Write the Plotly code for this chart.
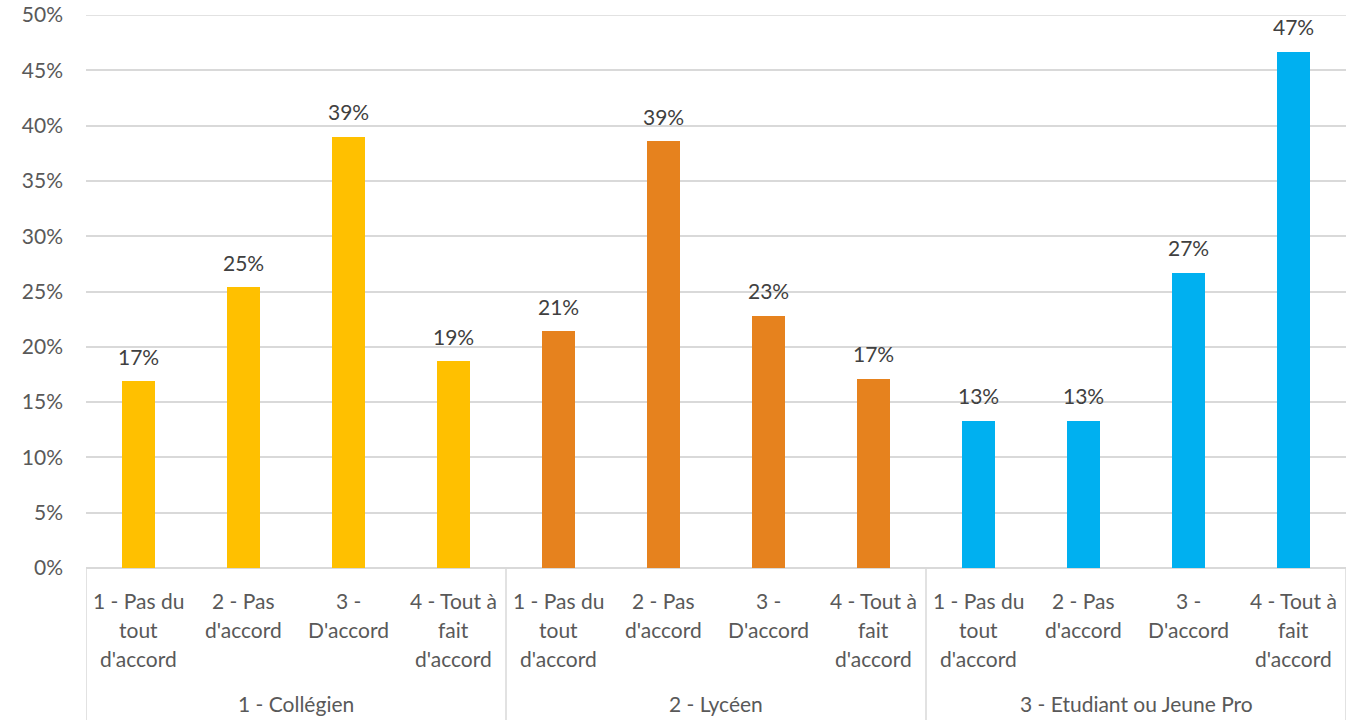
import plotly.graph_objects as go

groups = ["1 - Collégien", "2 - Lycéen", "3 - Etudiant ou Jeune Pro"]
responses = ["1 - Pas du\ntout\nd'accord", "2 - Pas\nd'accord", "3 -\nD'accord", "4 - Tout à\nfait\nd'accord"]
collegien = [16.9, 25.4, 39.0, 18.7]
lyceen = [21.4, 38.6, 22.8, 17.1]
etudiant = [13.3, 13.3, 26.7, 46.7]
colors = ["#FFC000", "#E6821E", "#00B0F0"]
y_ticks = [0, 5, 10, 15, 20, 25, 30, 35, 40, 45, 50]

series = [collegien, lyceen, etudiant]
FONT = "Lato"
AX_COLOR = "#595959"
FS = 21

fig = go.Figure()
annotations = []
shapes = []
n = len(responses)
for gi, (g, vals, col) in enumerate(zip(groups, series, colors)):
    xs = [gi * n + i for i in range(n)]
    fig.add_trace(go.Bar(x=xs, y=vals, marker=dict(color=col, line=dict(width=0)),
                         width=0.315, name=g, showlegend=False, hoverinfo="y"))
    for x, v in zip(xs, vals):
        annotations.append(dict(x=x, y=v, xref="x", yref="y", text=f"{round(v):d}%",
                                showarrow=False, yanchor="middle", yshift=25,
                                font=dict(family=FONT, size=FS, color="#404040")))
    for x, lab in zip(xs, responses):
        for li, line in enumerate(lab.split("\n")):
            annotations.append(dict(x=x, y=0, xref="x", yref="paper", text=line,
                                    showarrow=False, yanchor="middle", yshift=-32 - 29 * li,
                                    font=dict(family=FONT, size=FS, color=AX_COLOR)))
    annotations.append(dict(x=gi * n + (n - 1) / 2, y=0, xref="x", yref="paper", text=g,
                            showarrow=False, yanchor="middle", yshift=-135,
                            font=dict(family=FONT, size=FS, color=AX_COLOR)))

for b in range(len(groups) + 1):
    xb = b * n - 0.5
    shapes.append(dict(type="line", xref="x", yref="paper", x0=xb, x1=xb, y0=0, y1=-0.3,
                       line=dict(color="#D9D9D9", width=1.5)))
# top gridline at the last tick (Plotly skips it at the range edge)
shapes.append(dict(type="line", xref="paper", yref="y", x0=0, x1=1,
                   y0=y_ticks[-1], y1=y_ticks[-1], layer="below",
                   line=dict(color="#D9D9D9", width=1.5)))

fig.update_layout(
    width=1360, height=720,
    margin=dict(l=86, r=14, t=15, b=152, autoexpand=False),
    plot_bgcolor="white", paper_bgcolor="white",
    bargap=0,
    annotations=annotations, shapes=shapes,
    xaxis=dict(range=[-0.5, len(groups) * n - 0.5], showticklabels=False, showgrid=False,
               zeroline=False, showline=False, fixedrange=True, automargin=False),
    yaxis=dict(range=[0, 50], tickvals=y_ticks, ticktext=[f"{v}%" for v in y_ticks],
               showgrid=True, gridcolor="#D9D9D9", gridwidth=1.5,
               zeroline=True, zerolinecolor="#D9D9D9", zerolinewidth=1.5,
               showline=False, ticks="", ticklabelstandoff=22, automargin=False,
               ticklabeloverflow="allow", fixedrange=True,
               tickfont=dict(family=FONT, size=FS, color=AX_COLOR)),
)

fig.write_html("out.html", config={"displayModeBar": False},
               post_script="document.body.style.margin='0';document.body.style.overflow='hidden';")
